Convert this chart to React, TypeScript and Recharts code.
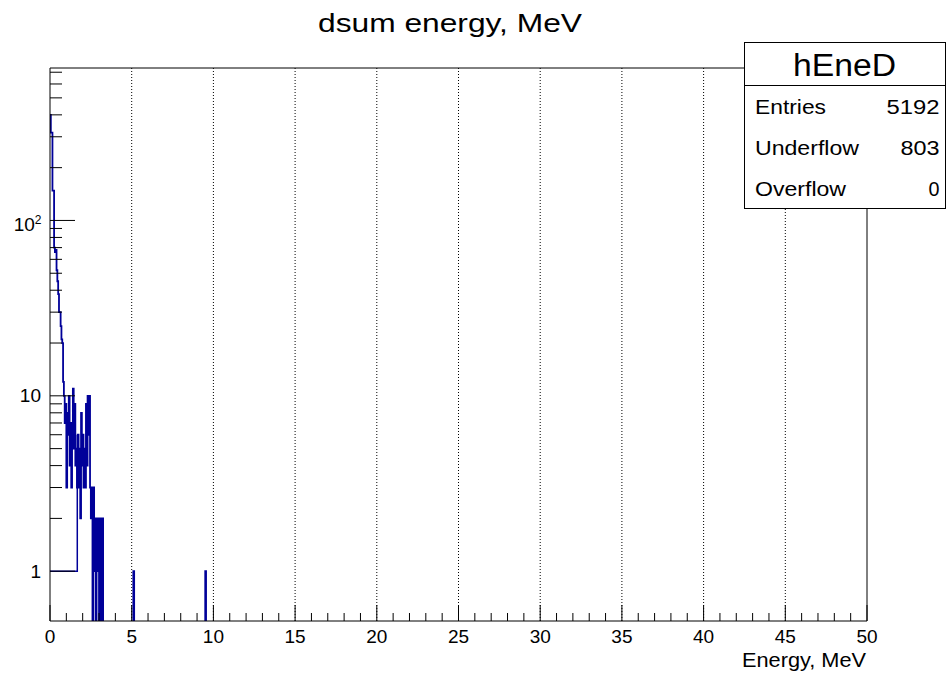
import React from "react";
import { LineChart, Line, XAxis, YAxis, ReferenceLine } from "recharts";

const FONT = "'Liberation Sans', Arial, Helvetica, sans-serif";
const BLUE = "#000099";

// histogram, 0.05 MeV bins from 0 to 3.4 MeV, counts
const BIN_WIDTH = 0.05;
const lowCounts = [
  400, 317, 317, 148, 148, 70, 66, 68, 52, 45, 38, 30, 30, 25, 21, 20, 12,
  10, 7, 9, 3, 8, 6, 10, 4, 7, 3, 6, 11, 5, 9, 4,
  5, 3, 6, 3, 5, 2, 8, 4, 6, 3, 5, 3, 9, 4, 10, 6, 10, 3, 2,
  3, 0, 3, 1, 2, 0, 2, 1, 2, 0, 2, 1, 0, 2, 0, 0, 0,
];
// isolated single counts further out
const spikeEnergies = [5.1, 9.5];
const spikeCounts = [1, 1];
// the flat line ROOT draws at 1 on the left
const floorEnergies = [0, 1.67, 1.67];
const floorCounts = [1, 1, 6];

const X_MAX = 50;
const Y_MIN = 0.52;
const Y_MAX = 740;
const ZERO = 0.1; // empty bins fall below the log axis

const xTicks = Array.from({ length: 51 }, (_, i) => i);
const gridX = [5, 10, 15, 20, 25, 30, 35, 40, 45];
const yTicks = [
  1, 2, 3, 4, 5, 6, 7, 8, 9, 10, 20, 30, 40, 50, 60, 70, 80, 90, 100, 200,
  300, 400, 500, 600, 700,
];
const yMajor = [1, 10, 100];

const statsRows = [
  { label: "Entries", value: "5192", lw: 71, vw: 53 },
  { label: "Underflow", value: "803", lw: 104, vw: 39 },
  { label: "Overflow", value: "0", lw: 91, vw: 11 },
];

const histData: { e: number; v: number }[] = [];
lowCounts.forEach((c, i) => histData.push({ e: i * BIN_WIDTH, v: c > 0 ? c : ZERO }));
histData.push({ e: lowCounts.length * BIN_WIDTH, v: ZERO });
spikeEnergies.forEach((e, i) => {
  histData.push({ e, v: spikeCounts[i] });
  histData.push({ e: e + BIN_WIDTH, v: ZERO });
});
histData.push({ e: X_MAX, v: ZERO });

const floorData = floorEnergies.map((e, i) => ({ e, v: floorCounts[i] }));

const X_TICK_MARGIN = 8;
const Y_TICK_MARGIN = 9;

const XTick = (props: any) => {
  const { x, y, payload } = props;
  const axisY = y - X_TICK_MARGIN;
  const major = payload.value % 5 === 0;
  return (
    <g>
      <line x1={x} x2={x} y1={axisY} y2={axisY - (major ? 16 : 8)} stroke="#000" />
      {major && (
        <text x={x} y={axisY + 22} textAnchor="middle" fontSize={19} fontFamily={FONT} fill="#000">
          {payload.value}
        </text>
      )}
    </g>
  );
};

const YTick = (props: any) => {
  const { x, y, payload } = props;
  const v = payload.value;
  const axisX = x + Y_TICK_MARGIN;
  const major = yMajor.includes(v);
  let label: React.ReactNode = null;
  if (v === 100) {
    label = (
      <text x={x + 0.5} y={y + 10.5} textAnchor="end" fontSize={19} fontFamily={FONT} fill="#000">
        <tspan>10</tspan>
        <tspan dy={-7} fontSize={12}>2</tspan>
      </text>
    );
  } else if (major) {
    label = (
      <text x={x} y={y} dy="0.35em" textAnchor="end" fontSize={19} fontFamily={FONT} fill="#000">
        {v}
      </text>
    );
  }
  return (
    <g>
      <line x1={axisX} x2={axisX + (major ? 25 : 12)} y1={y} y2={y} stroke="#000" />
      {label}
    </g>
  );
};

export default function App() {
  return (
    <div style={{ position: "absolute", left: 0, top: 0, width: 946, height: 675, background: "#fff" }}>
      <LineChart width={946} height={675} margin={{ top: 68, right: 79, bottom: 0, left: 0 }}>
        <XAxis
          dataKey="e"
          type="number"
          domain={[0, X_MAX]}
          ticks={xTicks}
          interval={0}
          allowDataOverflow
          height={54}
          tickSize={0}
          tickMargin={X_TICK_MARGIN}
          tick={<XTick />}
          axisLine={{ stroke: "#000" }}
        />
        <YAxis
          type="number"
          scale="log"
          domain={[Y_MIN, Y_MAX]}
          ticks={yTicks}
          interval={0}
          allowDataOverflow
          width={50}
          tickSize={0}
          tickMargin={Y_TICK_MARGIN}
          tick={<YTick />}
          axisLine={{ stroke: "#000" }}
        />
        {gridX.map((g) => (
          <ReferenceLine key={g} x={g} stroke="#000" strokeDasharray="1 2" />
        ))}
        <ReferenceLine x={X_MAX} stroke="#000" />
        <ReferenceLine y={Y_MAX} stroke="#000" />
        <Line
          data={histData}
          dataKey="v"
          type="stepAfter"
          stroke={BLUE}
          strokeWidth={1.8}
          dot={false}
          isAnimationActive={false}
        />
        <Line
          data={floorData}
          dataKey="v"
          type="linear"
          stroke={BLUE}
          strokeWidth={1.5}
          dot={false}
          isAnimationActive={false}
        />
      </LineChart>

      <svg
        width={946}
        height={675}
        style={{ position: "absolute", left: 0, top: 0, pointerEvents: "none" }}
        fontFamily={FONT}
      >
        <text x={450} y={32} textAnchor="middle" fontSize={25} textLength={264} lengthAdjust="spacingAndGlyphs">
          dsum energy, MeV
        </text>
        <text x={742} y={667} fontSize={20} textLength={124} lengthAdjust="spacingAndGlyphs">
          Energy, MeV
        </text>

        <rect x={744.5} y={42.5} width={201} height={166} fill="#fff" stroke="#000" />
        <line x1={744.5} x2={945.5} y1={85.5} y2={85.5} stroke="#000" />
        <text x={793} y={76} fontSize={31} textLength={103} lengthAdjust="spacingAndGlyphs">
          hEneD
        </text>
        {statsRows.map((r, i) => (
          <g key={r.label}>
            <text x={755} y={114 + i * 40.8} fontSize={20} textLength={r.lw} lengthAdjust="spacingAndGlyphs">
              {r.label}
            </text>
            <text x={939.5 - r.vw} y={114 + i * 40.8} fontSize={20} textLength={r.vw} lengthAdjust="spacingAndGlyphs">
              {r.value}
            </text>
          </g>
        ))}
      </svg>
    </div>
  );
}
